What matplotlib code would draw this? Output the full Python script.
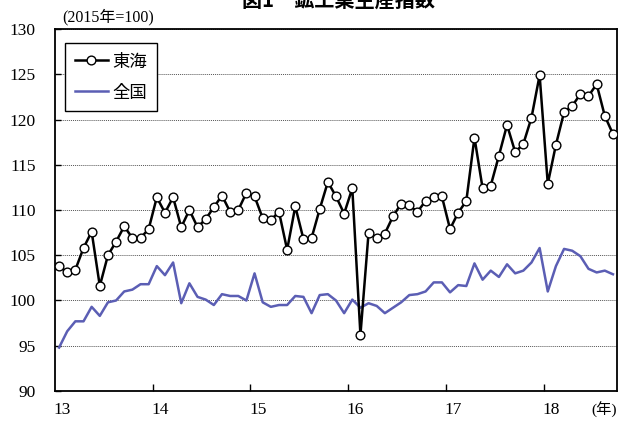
import numpy as np
import matplotlib.pyplot as plt

# Monthly index, Jan 2013 - Sep 2018 (2015 = 100)
years = ['13', '14', '15', '16', '17', '18']
tokai = [103.8, 103.1, 103.4, 105.8, 107.6, 101.6, 105.0, 106.5, 108.2, 106.9, 106.9, 107.9,
         111.4, 109.7, 111.4, 108.1, 110.0, 108.1, 109.0, 110.3, 111.6, 109.8, 110.0, 111.9,
         111.5, 109.1, 108.9, 109.8, 105.6, 110.4, 106.8, 106.9, 110.1, 113.1, 111.5, 109.6,
         112.4, 96.2, 107.5, 106.9, 107.4, 109.3, 110.7, 110.5, 109.8, 111.0, 111.4, 111.5,
         107.9, 109.7, 111.0, 118.0, 112.4, 112.7, 116.0, 119.4, 116.4, 117.3, 120.2, 124.9,
         112.9, 117.2, 120.8, 121.5, 122.8, 122.6, 123.9, 120.4, 118.4]
zenkoku = [94.8, 96.6, 97.7, 97.7, 99.3, 98.3, 99.8, 100.0, 101.0, 101.2, 101.8, 101.8,
           103.8, 102.8, 104.2, 99.7, 101.9, 100.4, 100.1, 99.5, 100.7, 100.5, 100.5, 100.0,
           103.0, 99.8, 99.3, 99.5, 99.5, 100.5, 100.4, 98.6, 100.6, 100.7, 100.0, 98.6,
           100.1, 99.2, 99.7, 99.4, 98.6, 99.2, 99.8, 100.6, 100.7, 101.0, 102.0, 102.0,
           100.9, 101.7, 101.6, 104.1, 102.3, 103.3, 102.6, 104.0, 103.0, 103.3, 104.2, 105.8,
           101.0, 103.8, 105.7, 105.5, 104.9, 103.5, 103.1, 103.3, 102.9]

serif = ['Liberation Serif', 'Noto Sans CJK JP']
gothic = ['Noto Sans CJK JP', 'DejaVu Sans']

fig = plt.figure(figsize=(6.19, 4.22), dpi=100)
ax = fig.add_axes([55 / 619, 31 / 422, 562 / 619, 362 / 422])

x = np.arange(len(tokai))
ax.plot(x, zenkoku, color='#5B5EB4', linewidth=1.8, label='全国', zorder=2)
ax.plot(x, tokai, color='black', linewidth=1.8, marker='o', markersize=6.3,
        markerfacecolor='white', markeredgecolor='black', markeredgewidth=1.0,
        label='東海', zorder=3)

ax.set_xlim(-0.5, len(tokai) - 0.5)
ax.set_ylim(90, 130)
ax.set_yticks(np.arange(90, 131, 5))
ax.yaxis.grid(True, linestyle=(0, (1, 1)), color='#555555', linewidth=0.7)
ax.set_axisbelow(True)

# ticks sit on year boundaries, labels under January
ax.set_xticks(np.arange(12, len(tokai), 12) - 0.5)
ax.set_xticklabels([])
ax.tick_params(axis='x', direction='in', length=5, width=1)
ax.tick_params(axis='y', direction='in', length=4, width=1, pad=14)
for lbl in ax.get_yticklabels():
    lbl.set_family(serif)
    lbl.set_fontsize(12.5)
for i, yr in enumerate(years):
    ax.text(i * 12 + 0.4, -0.052, yr, transform=ax.get_xaxis_transform(),
            ha='center', va='center', family=serif, fontsize=12.5)
ax.text(1.0, -0.052, '(年)', transform=ax.transAxes, ha='right', va='center',
        family=serif, fontsize=11)

for s in ax.spines.values():
    s.set_linewidth(1.3)
    s.set_color('black')

ax.text(62 / 619, 1 - 17 / 422, '(2015年=100)', transform=fig.transFigure,
        ha='left', va='center', family=serif, fontsize=11.5)
fig.text(338 / 619, 1 - 7 / 422, '図1　鉱工業生産指数', ha='center', va='baseline',
         family=gothic, fontsize=14.5, fontweight='bold')

leg = ax.legend(handles=ax.get_lines()[::-1], loc='upper left',
                bbox_to_anchor=(10 / 562, 1 - 14 / 362), prop={'family': gothic, 'size': 12.5},
                frameon=True, fancybox=False, edgecolor='black', framealpha=1,
                handlelength=1.9, handletextpad=0.3, borderpad=0.55, labelspacing=0.75,
                borderaxespad=0)
leg.get_frame().set_linewidth(1.0)

plt.savefig('out.png', dpi=100)
